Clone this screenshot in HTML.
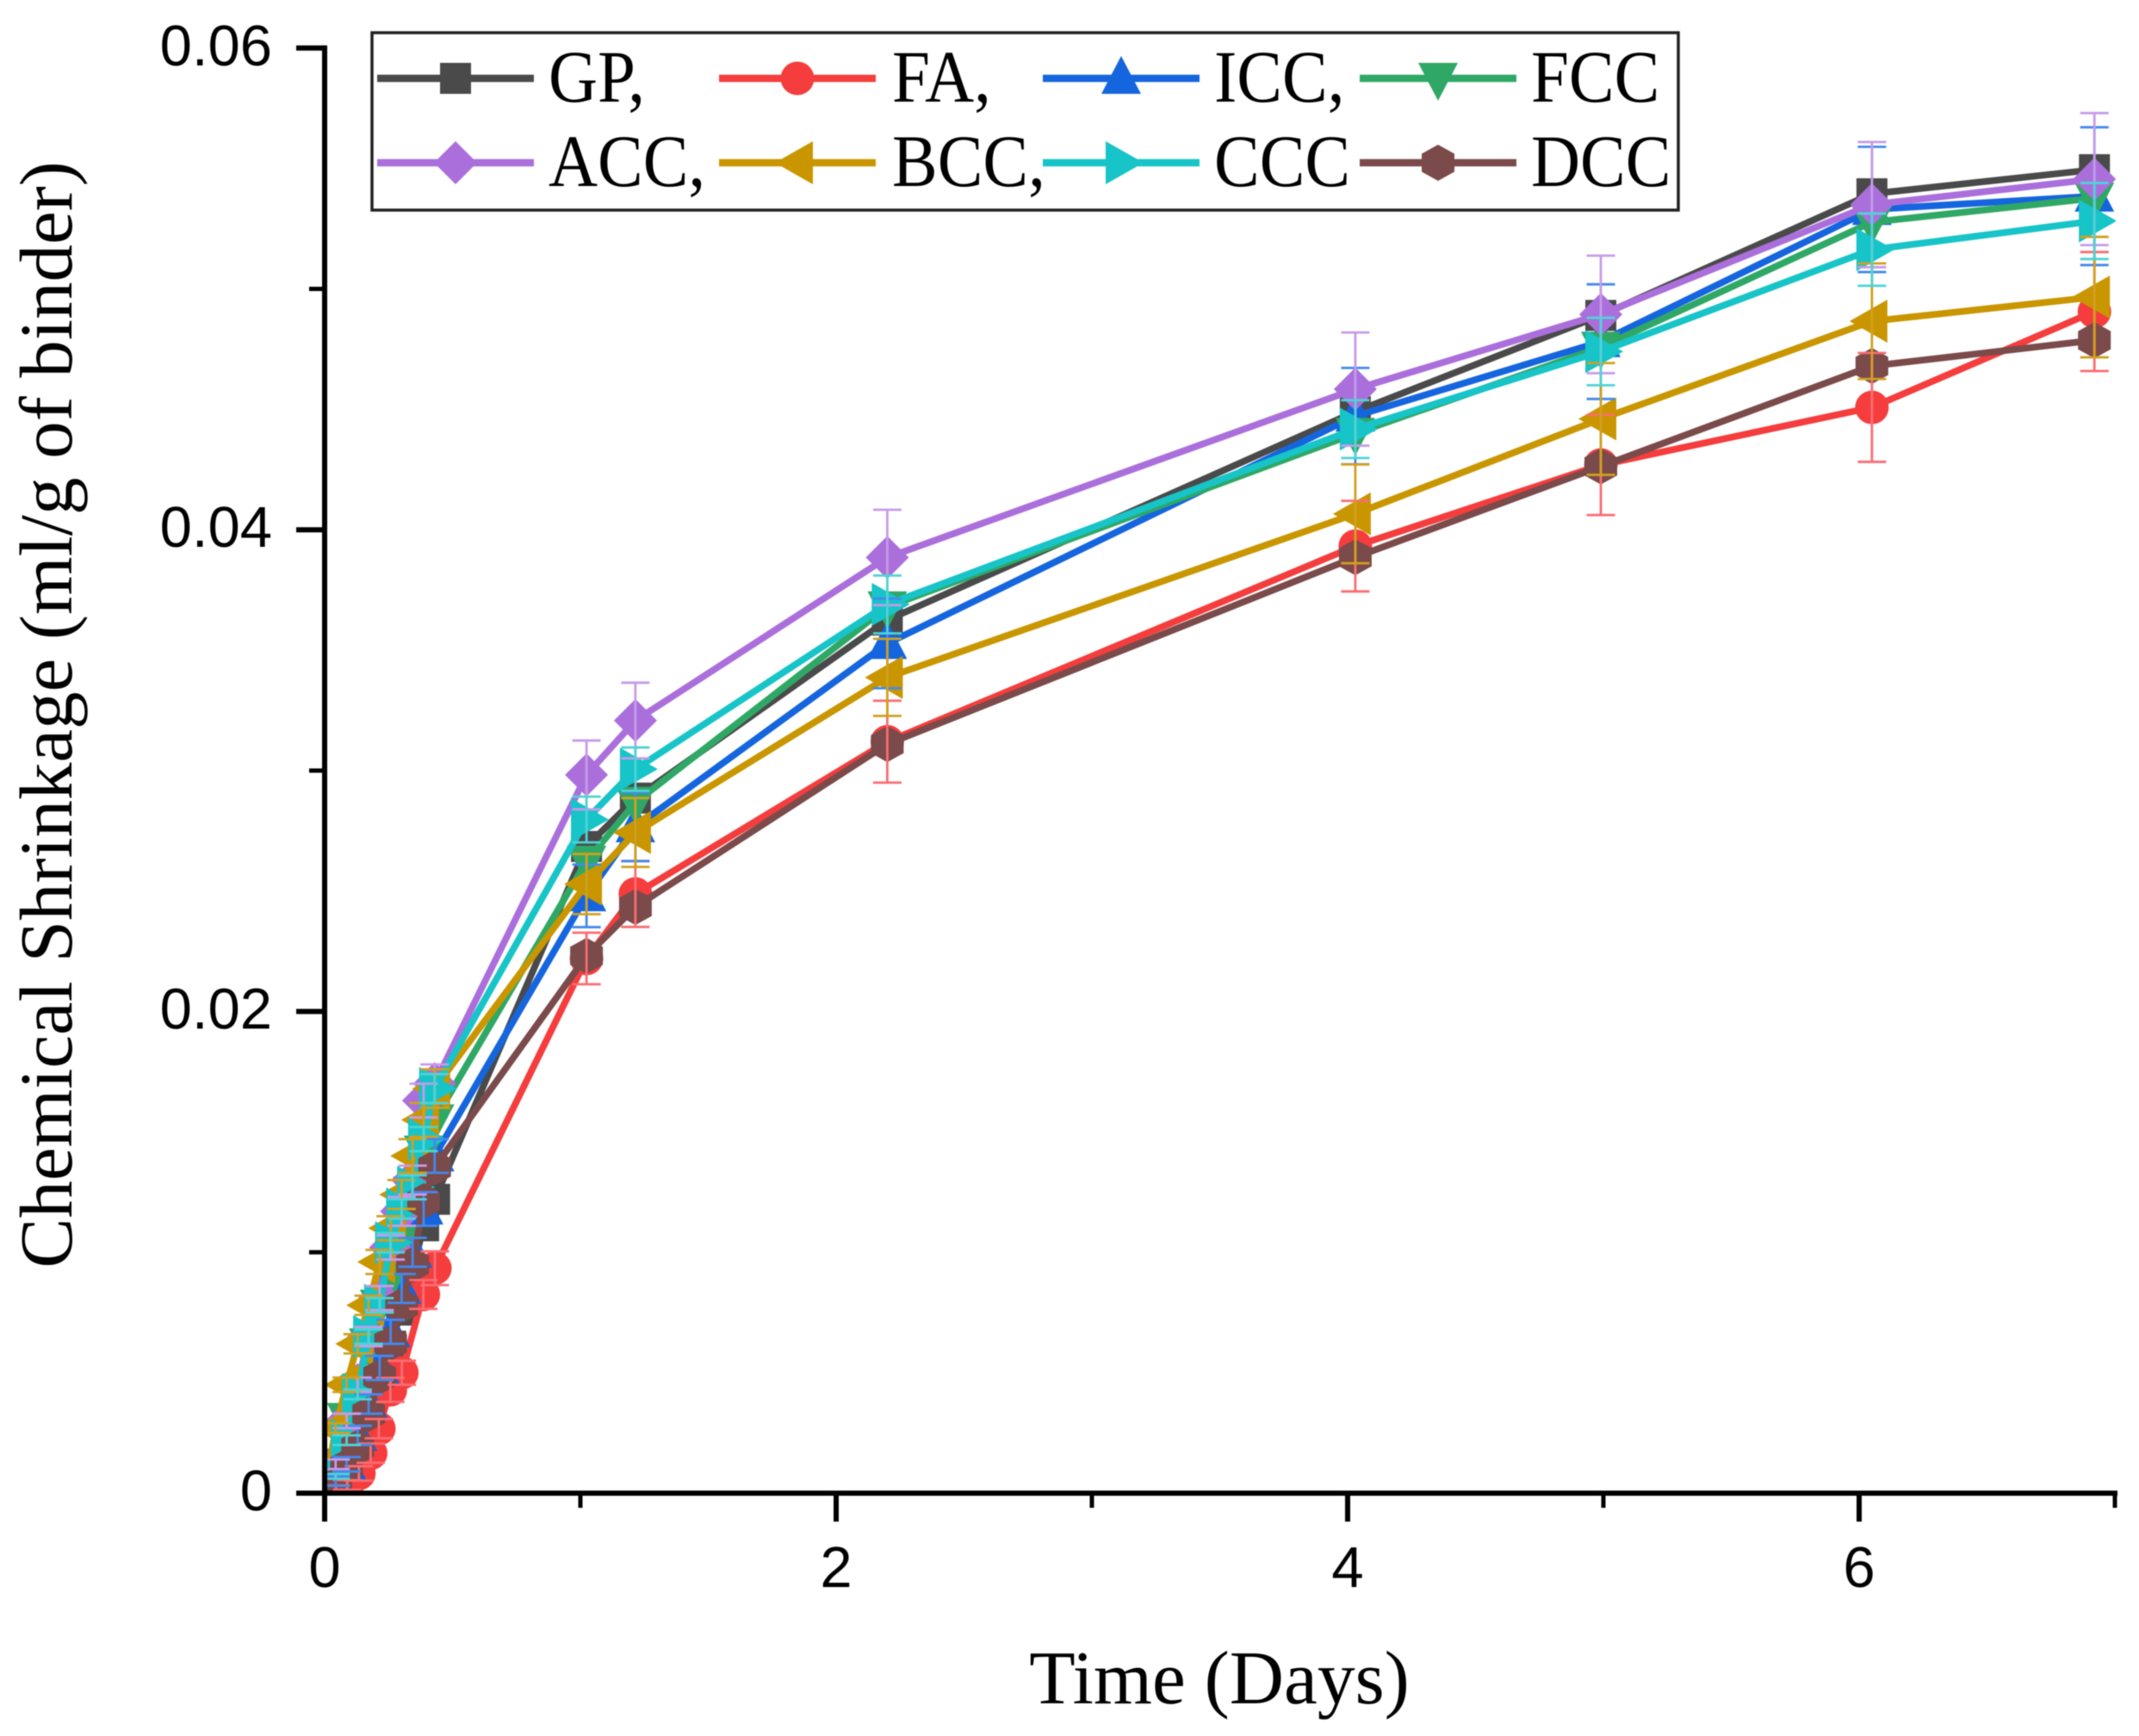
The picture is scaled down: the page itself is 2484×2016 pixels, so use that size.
<!DOCTYPE html>
<html lang="en">
<head>
<meta charset="utf-8">
<title>Chemical Shrinkage vs Time</title>
<style>
html,body{margin:0;padding:0;background:#fff;}
svg{display:block;filter:blur(0.6px);}
text{fill:#000;}
</style>
</head>
<body>
<svg id="chart" xmlns="http://www.w3.org/2000/svg" width="2484" height="2016" viewBox="0 0 2484 2016">
  <defs>
    <clipPath id="plot-clip"><rect x="377" y="50" width="2080" height="1684"/></clipPath>
  </defs>
  <rect x="0" y="0" width="2484" height="2016" fill="#ffffff"/>
  <text transform="translate(83,830) rotate(-90)" text-anchor="middle" font-family="'Liberation Serif',serif" font-size="87">Chemical Shrinkage (ml/g of binder)</text>
  <text x="1416" y="1978" text-anchor="middle" font-family="'Liberation Serif',serif" font-size="87.5">Time (Days)</text>
  <g clip-path="url(#plot-clip)">
    <g id="series-layer"></g>
    <g id="error-layer"></g>
  </g>
  <g id="axis-layer"></g>
  <g id="legend-layer"></g>
</svg>
<script>
// ---- Data ----
const days = [0,0.043,0.086,0.129,0.172,0.215,0.258,0.301,0.344,0.387,0.43,1.024,1.215,2.2,4.03,4.99,6.05,6.92];
const faDays = [0,0.044,0.088,0.134,0.18,0.212,0.257,0.302,0.386,0.431,1.024,1.215,2.2,4.03,4.99,6.05,6.92];

const gpValues  = [0,0.0004,0.0010,0.0019,0.0032,0.0046,0.0061,0.0076,0.0092,0.0111,0.0122,0.02685,0.02886,0.03625,0.0449,0.0489,0.05395,0.05495];
const faValues  = [0,0.00012,0.00034,0.00082,0.00166,0.00268,0.00429,0.0050,0.00825,0.00934,0.0222,0.02488,0.0312,0.03932,0.04269,0.04508,0.04906];
const iccValues = [0,0.0005,0.0012,0.0024,0.0037,0.0052,0.0067,0.0085,0.0100,0.0118,0.0140,0.0248,0.02767,0.03528,0.04472,0.04781,0.0533,0.05385];
const fccValues = [0,0.0012,0.0031,0.0042,0.0062,0.0078,0.0089,0.0105,0.0125,0.0142,0.0155,0.02624,0.02868,0.0368,0.0440,0.04758,0.05277,0.05377];
const accValues = [0,0.0012,0.0030,0.0045,0.0065,0.0081,0.0102,0.0117,0.0130,0.0163,0.0170,0.02982,0.03208,0.03885,0.04584,0.04894,0.0535,0.05456];
const bccValues = [0,0.0027,0.0045,0.0062,0.0078,0.0096,0.0110,0.0124,0.0140,0.0155,0.0168,0.02529,0.02743,0.03387,0.04066,0.0446,0.04866,0.04966];
const cccValues = [0,0.0007,0.0022,0.0041,0.0065,0.0078,0.0104,0.0118,0.0127,0.0147,0.0168,0.02797,0.03006,0.0369,0.04418,0.0474,0.05163,0.05282];
const dccValues = [0,0.00034,0.00111,0.00189,0.00329,0.00484,0.00623,0.00778,0.00949,0.01212,0.01352,0.02231,0.02434,0.0311,0.03886,0.04263,0.0468,0.04787];

const faErrors  = [0,0.0002,0.0002,0.0003,0.0004,0.0004,0.0005,0.0005,0.0006,0.0007,0.00107,0.00137,0.0017,0.00188,0.00208,0.00226,0.00247];
const iccErrors = [0,0.0002,0.0003,0.0004,0.0004,0.0005,0.0005,0.0006,0.0006,0.0007,0.0007,0.0013,0.00143,0.00186,0.0020,0.00238,0.0026,0.00286];
const accErrors = [0,0.0002,0.0003,0.0003,0.0004,0.0005,0.0005,0.0006,0.0006,0.0007,0.0008,0.00143,0.00157,0.00198,0.00235,0.00244,0.0026,0.00274];
const bccErrors = [0,0.0002,0.0003,0.0004,0.0004,0.0005,0.0005,0.0006,0.0007,0.0007,0.0008,0.00125,0.00143,0.0016,0.00205,0.00232,0.0024,0.0025];
const cccErrors = [0,0.0001,0.0002,0.0002,0.0003,0.0003,0.0004,0.0004,0.0005,0.0005,0.0006,0.00095,0.0009,0.0012,0.0012,0.0014,0.0015,0.00158];

const seriesNames = ['GP','FA','ICC','FCC','ACC','BCC','CCC','DCC'];
const legendLabels = ['GP,','FA,','ICC,','FCC','ACC,','BCC,','CCC','DCC'];
const yMajorTicks = [0,0.02,0.04,0.06];
const yMinorTicks = [0.01,0.03,0.05];
const yTickLabels = ['0','0.02','0.04','0.06'];
const xMajorTicks = [0,2,4,6];
const xMinorTicks = [1,3,5,7];
const xTickLabels = ['0','2','4','6'];

// ---- Axis functions ----
function xScale(t){ return 377 + 297 * t; }
function yScale(v){ return 1734 - 27970 * v; }

const NS = 'http://www.w3.org/2000/svg';
function mk(tag, attrs, parent){
  const el = document.createElementNS(NS, tag);
  for (const k in attrs) el.setAttribute(k, attrs[k]);
  parent.appendChild(el);
  return el;
}
function poly(pts){ return pts.map(p => p[0].toFixed(1) + ',' + p[1].toFixed(1)).join(' '); }

function drawMarker(shape, cx, cy, color, parent){
  let el;
  if (shape === 'square') {
    el = mk('rect', {x: cx-18, y: cy-18, width: 36, height: 36, fill: color}, parent);
  } else if (shape === 'circle') {
    el = mk('circle', {cx: cx, cy: cy, r: 19.5, fill: color}, parent);
  } else if (shape === 'up') {
    el = mk('polygon', {points: poly([[cx,cy-26],[cx+23,cy+18],[cx-23,cy+18]]), fill: color}, parent);
  } else if (shape === 'down') {
    el = mk('polygon', {points: poly([[cx,cy+26],[cx+23,cy-18],[cx-23,cy-18]]), fill: color}, parent);
  } else if (shape === 'diamond') {
    el = mk('polygon', {points: poly([[cx,cy-25],[cx+25,cy],[cx,cy+25],[cx-25,cy]]), fill: color}, parent);
  } else if (shape === 'left') {
    el = mk('polygon', {points: poly([[cx-26,cy],[cx+18,cy-25],[cx+18,cy+25]]), fill: color}, parent);
  } else if (shape === 'right') {
    el = mk('polygon', {points: poly([[cx+26,cy],[cx-18,cy-25],[cx-18,cy+25]]), fill: color}, parent);
  } else {
    el = mk('polygon', {points: poly([[cx,cy-21],[cx+19,cy-10.5],[cx+19,cy+10.5],[cx,cy+21],[cx-19,cy+10.5],[cx-19,cy-10.5]]), fill: color}, parent);
  }
  return el;
}

const seriesList = [
  {name: seriesNames[0], t: days,   v: gpValues,  color: '#4a4a4a', shape: 'square'},
  {name: seriesNames[1], t: faDays, v: faValues,  color: '#f53d3d', shape: 'circle',  err: faErrors,  errColor: '#fb6c72'},
  {name: seriesNames[2], t: days,   v: iccValues, color: '#1565de', shape: 'up',      err: iccErrors, errColor: '#4389ee'},
  {name: seriesNames[3], t: days,   v: fccValues, color: '#2fa866', shape: 'down'},
  {name: seriesNames[4], t: days,   v: accValues, color: '#ab6fdc', shape: 'diamond', err: accErrors, errColor: '#c79be8'},
  {name: seriesNames[5], t: days,   v: bccValues, color: '#c99600', shape: 'left',    err: bccErrors, errColor: '#d0a020'},
  {name: seriesNames[6], t: days,   v: cccValues, color: '#17c4c8', shape: 'right',   err: cccErrors, errColor: '#4fd3d6'},
  {name: seriesNames[7], t: days,   v: dccValues, color: '#7b4a4a', shape: 'hexagon'}
];

// ---- Series ----
const seriesLayer = document.getElementById('series-layer');
seriesList.forEach(function(s){
  const g = mk('g', {}, seriesLayer);
  
  
  const pts = s.v.map((val, i) => [xScale(s.t[i]), yScale(val)]);
  const line = mk('polyline', {points: poly(pts), fill: 'none', stroke: s.color, 'stroke-width': 7.8, 'stroke-linejoin': 'round'}, g);
  
  
  pts.forEach(function(p){
    const m = drawMarker(s.shape, p[0], p[1], s.color, g);
    
    
  });
});

// ---- Error bars ----
const errorLayer = document.getElementById('error-layer');
seriesList.forEach(function(s){
  if (!s.err) return;
  s.v.forEach(function(val, i){
    if (!s.err[i]) return;
    const x = xScale(s.t[i]);
    const hi = yScale(val + s.err[i]);
    const lo = yScale(val - s.err[i]);
    const d = 'M' + x + ' ' + lo + 'L' + x + ' ' + hi + 'M' + (x-16.5) + ' ' + hi + 'L' + (x+16.5) + ' ' + hi + 'M' + (x-16.5) + ' ' + lo + 'L' + (x+16.5) + ' ' + lo;
    const e = mk('path', {d: d, fill: 'none', stroke: s.errColor, 'stroke-width': 2.8}, errorLayer);
    
    
  });
});

// ---- Axes ----
const axisLayer = document.getElementById('axis-layer');
const yLine = mk('line', {x1: xScale(0), x2: xScale(0), y1: yScale(0.06)-3, y2: yScale(0)+33, stroke: '#000', 'stroke-width': 6}, axisLayer);


const xLine = mk('line', {x1: xScale(0)-33, x2: xScale(7)+3, y1: yScale(0), y2: yScale(0), stroke: '#000', 'stroke-width': 6}, axisLayer);



yMajorTicks.forEach(function(v, i){
  const y = yScale(v);
  const t = mk('line', {x1: xScale(0)-33, x2: xScale(0), y1: y, y2: y, stroke: '#000', 'stroke-width': 6}, axisLayer);
  
  
  const l = mk('text', {x: 316, y: y + 20, 'text-anchor': 'end', 'font-family': "'Liberation Sans',sans-serif", 'font-size': 67}, axisLayer);
  l.textContent = yTickLabels[i];
  
  
});
yMinorTicks.forEach(function(v){
  const y = yScale(v);
  const t = mk('line', {x1: xScale(0)-18, x2: xScale(0), y1: y, y2: y, stroke: '#000', 'stroke-width': 5}, axisLayer);
  
  
});
xMajorTicks.forEach(function(d, i){
  const x = xScale(d);
  const t = mk('line', {x1: x, x2: x, y1: yScale(0), y2: yScale(0)+33, stroke: '#000', 'stroke-width': 6}, axisLayer);
  
  
  const l = mk('text', {x: x, y: 1843, 'text-anchor': 'middle', 'font-family': "'Liberation Sans',sans-serif", 'font-size': 67}, axisLayer);
  l.textContent = xTickLabels[i];
  
  
});
xMinorTicks.forEach(function(d){
  const x = xScale(d);
  const t = mk('line', {x1: x, x2: x, y1: yScale(0), y2: yScale(0)+17, stroke: '#000', 'stroke-width': 5}, axisLayer);
  
  
});

// ---- Legend ----
const legendLayer = document.getElementById('legend-layer');
const legendBox = mk('rect', {x: 432, y: 38, width: 1517, height: 206, fill: '#ffffff', stroke: '#222', 'stroke-width': 3.5}, legendLayer);


const legendSampleX = [438,835,1211,1579];
const legendTextX = [637,1036,1410,1778];
const legendRowY = [91,189];
seriesList.forEach(function(s, i){
  const col = i % 4;
  const row = Math.floor(i / 4);
  const y = legendRowY[row];
  const x0 = legendSampleX[col];
  const g = mk('g', {}, legendLayer);
  
  
  const sample = mk('line', {x1: x0, x2: x0 + 182, y1: y, y2: y, stroke: s.color, 'stroke-width': 8.5}, g);
  
  
  const m = drawMarker(s.shape, x0 + 91, y, s.color, g);
  
  
  const t = mk('text', {x: 0, y: 0, transform: 'translate(' + legendTextX[col] + ',' + (y + 27) + ') scale(1,1.08)', 'font-family': "'Liberation Serif',serif", 'font-size': 79}, g);
  t.textContent = legendLabels[i];
  
  
});
</script>
</body>
</html>
